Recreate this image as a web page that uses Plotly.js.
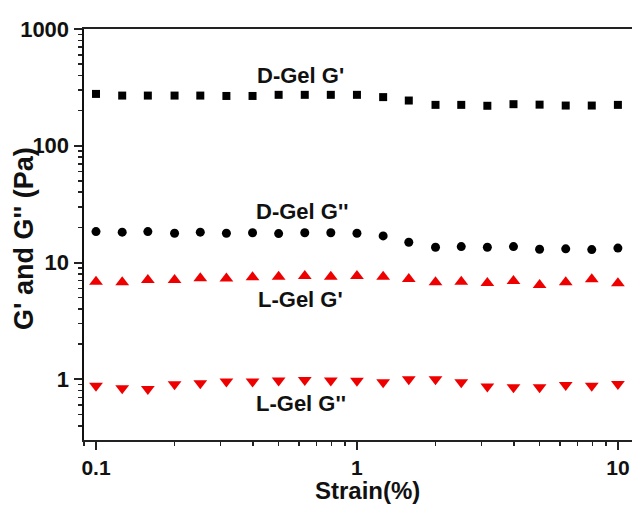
<!DOCTYPE html>
<html>
<head>
<meta charset="utf-8">
<script src="https://cdn.plot.ly/plotly-3.0.1.min.js"></script>
<style>
html,body{margin:0;padding:0;overflow:hidden;background:#fff;}
#chart{width:660px;height:505px;}
</style>
</head>
<body>
<div id="chart"></div>
<script>
// Strain (%) values: 21 points, log-spaced 0.1 .. 10
const strain = [0.1, 0.126, 0.158, 0.2, 0.251, 0.316, 0.398, 0.501, 0.631, 0.794, 1, 1.26, 1.58, 2, 2.51, 3.16, 3.98, 5.01, 6.31, 7.94, 10];

// D-Gel storage modulus G' (Pa)
const dGelGp = [278, 269, 269, 269, 269, 267, 267, 273, 273, 273, 273, 261, 244, 224, 224, 220, 227, 225, 221, 221, 224];
// D-Gel loss modulus G'' (Pa)
const dGelGpp = [18.4, 18.2, 18.4, 17.8, 18.2, 17.8, 18.0, 17.7, 18.0, 18.0, 17.8, 16.9, 14.9, 13.5, 13.7, 13.5, 13.7, 13.0, 13.1, 12.9, 13.3];
// L-Gel storage modulus G' (Pa)
const lGelGp = [6.86, 6.78, 7.07, 7.07, 7.32, 7.3, 7.48, 7.57, 7.65, 7.57, 7.68, 7.57, 7.22, 6.78, 6.86, 6.67, 6.95, 6.43, 6.78, 7.18, 6.65];
// L-Gel loss modulus G'' (Pa)
const lGelGpp = [0.88, 0.837, 0.824, 0.908, 0.924, 0.955, 0.955, 0.975, 0.986, 0.975, 0.97, 0.943, 1.0, 1.0, 0.943, 0.866, 0.854, 0.854, 0.894, 0.88, 0.91];

const seriesNames = ["D-Gel G'", "D-Gel G''", "L-Gel G'", "L-Gel G''"];
const labelX = [300, 302, 300, 301];      // label centres, pixels
const labelY = [75.5, 211, 299, 403.5];
const yTitle = "G' and G'' (Pa)";
const xTitle = "Strain(%)";

const FONT = "Liberation Sans, Arial, Helvetica, sans-serif";

const traces = [
  {x: strain, y: dGelGp, name: seriesNames[0], mode: 'markers', type: 'scatter',
   marker: {symbol: 'square', size: 8, color: '#000'}},
  {x: strain, y: dGelGpp, name: seriesNames[1], mode: 'markers', type: 'scatter',
   marker: {symbol: 'circle', size: 9, color: '#000'}},
  {x: strain, y: lGelGp, name: seriesNames[2], mode: 'markers', type: 'scatter',
   marker: {symbol: 'triangle-up', size: 12, color: '#ee0000'}},
  {x: strain, y: lGelGpp, name: seriesNames[3], mode: 'markers', type: 'scatter',
   marker: {symbol: 'triangle-down', size: 12, color: '#ee0000'}}
];

const px2x = p => (p - 84) / 566;
const px2y = p => 1 - (p - 29) / 411;

const annotations = seriesNames.map((t, i) => ({
  text: t, xref: 'paper', yref: 'paper',
  x: px2x(labelX[i]), y: px2y(labelY[i]),
  xanchor: 'center', yanchor: 'middle', showarrow: false,
  font: {family: FONT, size: 22, color: '#111', weight: 'bold'}
}));
annotations.push({
  text: yTitle, xref: 'paper', yref: 'paper',
  x: px2x(24), y: px2y(239),
  xanchor: 'center', yanchor: 'middle', textangle: -90, showarrow: false,
  font: {family: FONT, size: 27, color: '#111', weight: 'bold'}
});
annotations.push({
  text: xTitle, xref: 'paper', yref: 'paper',
  x: px2x(367), y: px2y(490), borderpad: 0,
  xanchor: 'center', yanchor: 'middle', showarrow: false,
  font: {family: FONT, size: 24, color: '#111', weight: 'bold'}
});

const layout = {
  width: 660, height: 505,
  margin: {l: 84, r: 10, t: 29, b: 65},
  paper_bgcolor: '#fff', plot_bgcolor: '#fff',
  showlegend: false,
  font: {family: FONT, size: 21, color: '#111', weight: 'bold'},
  xaxis: {
    type: 'log', range: [-1.046, 1.123],
    tickvals: [0.1, 1, 10], ticktext: ['0.1', '1', '10'],
    ticks: 'outside', ticklen: 8, tickwidth: 2, tickcolor: '#222',
    showline: true, linewidth: 2, linecolor: '#222', mirror: true,
    showgrid: false, zeroline: false,
    tickfont: {family: FONT, size: 21, color: '#111', weight: 'bold'},
    minor: {ticks: 'outside', ticklen: 4, tickwidth: 1.5, tickcolor: '#222', dtick: 'D1', showgrid: false}
  },
  yaxis: {
    type: 'log', range: [-0.52, 3.0],
    tickvals: [1, 10, 100, 1000], ticktext: ['1', '10', '100', '1000'],
    ticks: 'outside', ticklen: 8, tickwidth: 2, tickcolor: '#222',
    showline: true, linewidth: 2.5, linecolor: '#111',
    showgrid: false, zeroline: false,
    tickfont: {family: FONT, size: 22, color: '#111', weight: 'bold'},
    minor: {ticks: 'outside', ticklen: 4, tickwidth: 1.5, tickcolor: '#222', dtick: 'D1', showgrid: false}
  },
  annotations: annotations
};

Plotly.newPlot('chart', traces, layout, {displayModeBar: false, staticPlot: true});
</script>
</body>
</html>
